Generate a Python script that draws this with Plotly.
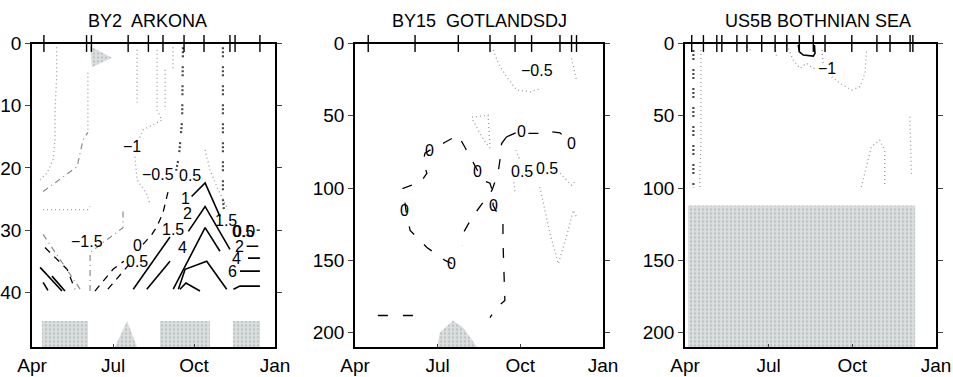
import plotly.graph_objects as go

# ---------------- data (month number: 4=Apr ... 13=Jan ; depth in m) ----------------
MONTH_TICKS = [4, 7, 10, 13]
MONTH_LABELS = ["Apr", "Jul", "Oct", "Jan"]
TITLES = ["BY2  ARKONA", "BY15  GOTLANDSDJ", "US5B BOTHNIAN SEA"]
DEPTH_RANGES = [48.8, 210, 210]
DEPTH_TICKS = [[0, 10, 20, 30, 40], [0, 50, 100, 150, 200], [0, 50, 100, 150, 200]]

# sampling dates (ticks on the top axis)
SAMPLE_BY2 = [4.44, 6.02, 6.20, 7.56, 8.31, 8.85, 9.63, 10.37, 11.33, 11.52, 12.44]
SAMPLE_BY15 = [4.48, 6.18, 7.75, 8.90, 9.81, 10.41, 11.44, 11.86, 12.04]
SAMPLE_US5B = [4.24, 4.66, 5.14, 5.32, 5.86, 6.22, 6.75, 7.23, 7.65, 8.10, 8.60,
               9.02, 9.98, 10.88, 11.35, 12.07, 12.17]

# ---- BY2 ARKONA isolines ----
BY2_SOLID = [
    [[7.75, 39.5], [9.11, 31.1]],
    [[9.91, 24.6], [10.41, 22.4], [10.96, 27.8]],
    [[8.25, 39.5], [9.11, 35.0]],
    [[9.79, 30.2], [10.41, 26.2], [11.33, 33.1]],
    [[9.23, 39.5], [10.41, 29.6], [10.96, 33.4]],
    [[9.42, 39.5], [9.67, 36.3], [10.47, 35.0], [11.21, 39.5]],
    [[9.48, 39.5], [9.70, 38.5], [10.22, 39.8]],
    [[11.46, 39.5], [11.70, 39.0], [12.44, 39.0]],
    [[11.95, 32.6], [12.38, 32.6]],
    [[12.00, 34.5], [12.44, 34.5]],
    [[11.70, 36.6], [12.44, 36.6]],
    [[4.30, 36.0], [5.11, 39.8]],
    [[4.41, 38.4], [4.59, 39.7]],
    [[4.74, 37.4], [5.22, 39.8]],
]
BY2_DASHED = [
    [[6.81, 39.5], [7.44, 36.3], [7.60, 35.5]],
    [[8.11, 32.3], [8.44, 30.7], [8.63, 29.4], [8.85, 27.2], [9.04, 23.8]],
    [[6.33, 39.8], [7.00, 36.3], [7.40, 35.0]],
    [[4.48, 32.8], [5.30, 36.3], [5.59, 39.5]],
    [[12.32, 30.0], [12.44, 30.0]],
]
BY2_GREYDASH = [
    [[4.41, 30.7], [5.78, 39.5]],
    [[6.15, 39.8], [6.15, 33.6], [7.37, 29.6], [7.37, 26.7]],
    [[4.41, 23.8], [5.67, 19.8], [5.89, 15.5], [6.07, 14.3]],
]
BY2_DOTTED = [
    [[4.91, 0.6], [4.91, 5.5], [4.85, 11.0], [4.85, 15.5], [4.78, 18.7], [4.56, 20.8], [4.30, 21.9]],
    [[6.07, 4.7], [6.07, 14.3]],
    [[4.41, 26.7], [6.07, 26.7], [6.15, 26.2]],
    [[8.63, 1.0], [8.63, 10.7], [8.81, 12.3], [8.44, 13.1], [8.11, 13.9], [7.95, 15.5]],
    [[7.81, 18.2], [7.89, 21.9], [8.26, 24.3], [8.37, 25.9]],
    [[7.89, 1.0], [7.89, 9.5]],
    [[8.93, 4.2], [8.93, 10.7]],
    [[9.22, 0.6], [9.22, 4.2]],
    [[10.41, 17.1], [10.59, 20.3], [10.89, 23.5], [11.26, 26.7]],
]
BY2_HEAVY = [
    [[9.59, 0.6], [9.56, 12.3], [9.44, 18.2], [9.33, 20.6]],
    [[11.07, 0.6], [11.07, 25.1], [11.11, 27.0]],
]
BY2_SHADE = [
    [[4.37, 48.8], [4.37, 44.6], [6.07, 44.6], [6.07, 48.8]],
    [[7.07, 48.8], [7.52, 44.6], [7.89, 48.8]],
    [[8.74, 48.8], [8.74, 44.6], [10.59, 44.6], [10.59, 48.8]],
    [[11.44, 48.8], [11.44, 44.6], [12.44, 44.6], [12.44, 48.8]],
    [[6.15, 0.4], [6.96, 2.3], [6.22, 3.8]],
]
BY2_LABELS = [
    ["−1", 7.70, 16.6], ["−0.5", 8.67, 21.1], ["0.5", 9.85, 21.2], ["1", 9.68, 24.9],
    ["2", 9.76, 27.4], ["1.5", 9.22, 29.9], ["4", 9.56, 32.8], ["0", 7.89, 32.4],
    ["0.5", 7.89, 35.0], ["−1.5", 6.04, 31.8], ["1.5", 11.19, 28.4], ["0.5", 11.81, 30.2],
    ["0.0", 11.84, 30.2], ["2", 11.70, 32.6], ["4", 11.56, 34.5], ["6", 11.44, 36.6],
]

# ---- BY15 GOTLANDSDJ isolines ----
BY15_DOTTED = [
    [[9.02, 4.5], [9.20, 13.7], [9.50, 23.0], [9.87, 32.2], [10.35, 33.4], [10.77, 31.1]],
    [[11.86, 10.3], [12.04, 25.3]],
    [[8.25, 51.0], [8.83, 49.6], [8.90, 71.8]],
    [[8.28, 53.0], [8.61, 64.8], [8.90, 72.4]],
    [[9.84, 73.8], [9.99, 80.8]],
    [[9.77, 96.0], [9.81, 103.6]],
    [[11.44, 89.8], [11.86, 98.1], [12.04, 94.6]],
    [[10.71, 99.3], [11.08, 131.6], [11.38, 152.4], [11.74, 129.3], [11.92, 115.4], [12.04, 120.0]],
]
BY15_DASHED = [
    [[7.52, 152.2], [7.27, 150.1], [6.61, 141.1], [6.00, 129.3], [5.85, 115.4], [5.74, 100.2],
     [6.07, 98.0], [6.36, 96.7], [6.61, 89.7], [6.47, 82.1], [6.54, 75.9], [6.72, 73.8],
     [7.27, 68.3], [7.74, 63.4], [7.99, 71.8], [8.25, 80.8], [8.46, 89.1], [8.64, 94.6],
     [8.90, 96.7], [9.01, 103.6], [9.01, 112.0], [9.26, 120.3], [9.37, 124.4], [9.37, 136.2],
     [9.44, 177.8], [9.15, 182.7], [8.90, 189.6]],
    [[9.50, 64.6], [9.32, 69.2], [9.26, 80.8], [9.19, 89.8], [8.97, 101.6], [8.64, 109.9],
     [8.25, 120.3], [7.92, 131.4], [7.88, 139.5]],
    [[9.50, 64.6], [10.05, 60.0], [10.29, 62.2], [10.65, 62.2], [11.14, 61.1], [11.44, 61.8],
     [11.86, 69.2]],
    [[4.83, 188.2], [5.27, 188.2]],
    [[5.74, 188.2], [6.18, 188.2]],
]
BY15_SHADE = [
    [[6.98, 210], [7.08, 200], [7.56, 191.7], [7.92, 196.5], [8.43, 210]],
]
BY15_LABELS = [
    ["−0.5", 10.59, 18.4], ["0", 6.72, 73.8], ["0", 8.46, 88.9], ["0", 5.81, 115.4],
    ["0", 7.52, 152.4], ["0", 9.02, 112.0], ["0", 10.05, 61.1], ["0", 11.86, 69.2],
    ["0.5", 10.05, 88.9], ["0.5", 10.96, 86.5],
]

# ---- US5B BOTHNIAN SEA isolines ----
US5B_SOLID = [
    [[8.06, 1.0], [8.10, 5.7], [8.24, 8.0], [8.60, 8.7], [8.66, 6.8], [8.64, 1.0]],
]
US5B_DOTTED = [
    [[7.65, 1.0], [7.88, 11.4], [8.12, 17.2], [8.36, 13.7], [8.60, 17.2], [8.75, 17.5]],
    [[9.26, 23.0], [9.56, 27.6], [9.98, 32.2], [10.27, 29.9], [10.45, 20.7], [10.51, 4.5]],
    [[8.91, 4.5], [8.95, 13.5]],
    [[6.22, 2.2], [6.40, 5.6]],
    [[7.23, 2.2], [7.29, 10.3]],
    [[4.57, 4.5], [4.57, 71.5], [4.53, 89.8], [4.53, 99.4]],
    [[10.32, 99.3], [10.50, 85.4], [10.68, 71.5], [10.98, 66.9], [11.16, 73.8], [11.16, 99.3]],
    [[12.06, 50.7], [12.12, 91.0]],
]
US5B_HEAVY = [
    [[4.30, 4.5], [4.30, 99.4]],
]
US5B_SHADE = [
    [[4.11, 112], [12.25, 112], [12.25, 210], [4.11, 210]],
]
US5B_LABELS = [["−1", 9.08, 17.2]]

# ---------------- figure ----------------
FONT = "Liberation Sans, Arial, Helvetica, sans-serif"
X_DOMAINS = [[0.0336, 0.2886], [0.3725, 0.6327], [0.7188, 0.9822]]
Y_DOMAIN = [0.0795, 0.8846]
TITLE_X = [0.155, 0.503, 0.858]

STYLES = {
    "solid": dict(color="black", width=1.6),
    "dashed": dict(color="black", width=1.3, dash="7px,6px"),
    "longdash": dict(color="black", width=1.3, dash="10px,14px"),
    "greydash": dict(color="#8a8a8a", width=1.2, dash="6px,4px,1px,4px"),
    "dotted": dict(color="#9a9a9a", width=1.3, dash="1px,3px"),
    "heavy": dict(color="#4a4a4a", width=2.2, dash="2px,2px,2px,2px,2px,9px"),
}

panels = [
    dict(sample=SAMPLE_BY2, shade=BY2_SHADE, labels=BY2_LABELS,
         lines=[("dotted", BY2_DOTTED), ("heavy", BY2_HEAVY), ("greydash", BY2_GREYDASH),
                ("dashed", BY2_DASHED), ("solid", BY2_SOLID)]),
    dict(sample=SAMPLE_BY15, shade=BY15_SHADE, labels=BY15_LABELS,
         lines=[("dotted", BY15_DOTTED), ("longdash", BY15_DASHED)]),
    dict(sample=SAMPLE_US5B, shade=US5B_SHADE, labels=US5B_LABELS,
         lines=[("dotted", US5B_DOTTED), ("heavy", US5B_HEAVY), ("solid", US5B_SOLID)]),
]

fig = go.Figure()
annotations = []
for i, p in enumerate(panels):
    xa = "x" if i == 0 else f"x{i+1}"
    ya = "y" if i == 0 else f"y{i+1}"
    for poly in p["shade"]:
        fig.add_trace(go.Scatter(
            x=[v[0] for v in poly] + [poly[0][0]], y=[v[1] for v in poly] + [poly[0][1]],
            xaxis=xa, yaxis=ya, mode="lines", fill="toself", line=dict(width=0),
            fillcolor="#d6dada",
            fillpattern=dict(shape=".", bgcolor="#dadede", fgcolor="#9aa0a0",
                             size=4, solidity=0.25),
            hoverinfo="skip"))
    for style, group in p["lines"]:
        for line in group:
            fig.add_trace(go.Scatter(
                x=[v[0] for v in line], y=[v[1] for v in line], xaxis=xa, yaxis=ya,
                mode="lines", line=STYLES[style], hoverinfo="skip"))
    fig.add_trace(go.Scatter(
        x=p["sample"], y=[0] * len(p["sample"]), xaxis=xa, yaxis=ya, mode="markers",
        marker=dict(symbol="line-ns", size=12, line=dict(color="black", width=1.4)),
        cliponaxis=False, hoverinfo="skip"))
    for text, mx, dy in p["labels"]:
        annotations.append(dict(x=mx, y=dy, xref=xa, yref=ya, text=text, showarrow=False,
                                font=dict(family=FONT, size=16, color="black")))
    annotations.append(dict(x=TITLE_X[i], y=0.945, xref="paper", yref="paper",
                            text=TITLES[i], showarrow=False, xanchor="center",
                            yanchor="middle", font=dict(family=FONT, size=18, color="black")))
    axkey = "xaxis" if i == 0 else f"xaxis{i+1}"
    aykey = "yaxis" if i == 0 else f"yaxis{i+1}"
    fig.update_layout(**{
        axkey: dict(domain=X_DOMAINS[i], anchor=ya, range=[4, 13], tickvals=MONTH_TICKS,
                    ticktext=MONTH_LABELS, ticks="inside", ticklen=3, tickwidth=1.3,
                    showline=True, linewidth=1.6, linecolor="black", mirror=True,
                    showgrid=False, zeroline=False, automargin=False,
                    tickfont=dict(family=FONT, size=19, color="black")),
        aykey: dict(domain=Y_DOMAIN, anchor=xa, range=[DEPTH_RANGES[i], 0],
                    tickvals=DEPTH_TICKS[i], ticks="outside", ticklen=5, tickwidth=1.3,
                    showline=True, linewidth=1.6, linecolor="black", mirror="ticks",
                    showgrid=False, zeroline=False, automargin=False,
                    tickfont=dict(family=FONT, size=19, color="black")),
    })

fig.update_layout(width=953, height=377, margin=dict(l=0, r=0, t=0, b=0, autoexpand=False),
                  paper_bgcolor="white", plot_bgcolor="white", showlegend=False,
                  annotations=annotations)
fig.write_html("out.html")
